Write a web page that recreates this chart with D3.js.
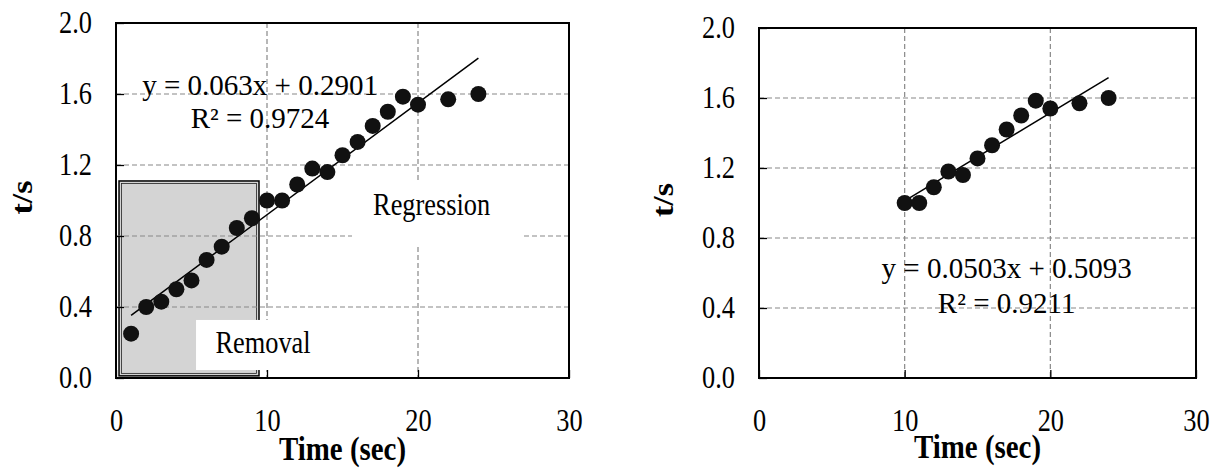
<!DOCTYPE html>
<html>
<head>
<meta charset="utf-8">
<script src="https://cdn.jsdelivr.net/npm/d3@7/dist/d3.min.js"></script>
<style>
  html, body { margin: 0; padding: 0; background: #fff; }
  svg { display: block; }
  text { font-family: "Liberation Serif", "Times New Roman", serif; fill: #000; }
</style>
</head>
<body>
<svg id="chart" width="1215" height="468"></svg>
<script>
// ---------- data ----------
const timeSec  = [1, 2, 3, 4, 5, 6, 7, 8, 9, 10, 11, 12, 13, 14, 15, 16, 17, 18, 19, 20, 22, 24];
const tsValues = [0.25, 0.40, 0.43, 0.50, 0.55, 0.665, 0.74, 0.845, 0.90, 1.00, 1.00, 1.09, 1.18, 1.16, 1.255, 1.33, 1.42, 1.50, 1.585, 1.54, 1.57, 1.60];
const xTicks = [0, 10, 20, 30];
const yTicks = [0.0, 0.4, 0.8, 1.2, 1.6, 2.0];
const fitAll  = { slope: 0.063,  intercept: 0.2901, r2: "0.9724", from: 1,  to: 24 };
const fitLate = { slope: 0.0503, intercept: 0.5093, r2: "0.9211", from: 10, to: 24 };
const lateStart = 10;

const svg = d3.select("#chart");
const SX = 0.85;   // the source renders its serif text slightly condensed
const FONT_TICK = 31, FONT_TITLE = 34, FONT_NOTE = 31;
const FONT_EQ = 29, SX_EQ = 1.0;

function eqText(f) {
  return "y = " + f.slope + "x + " + f.intercept;
}

function cText(parent, px, py, str, size, bold, sx) {
  return parent.append("text")
    .attr("transform", `translate(${px},${py}) scale(${sx == null ? SX : sx},1)`)
    .attr("text-anchor", "middle").attr("font-size", size)
    .attr("font-weight", bold ? "bold" : "normal").text(str);
}

function drawPanel(cfg) {
  const g = svg.append("g");
  const x = d3.scaleLinear().domain([0, 30]).range([cfg.left, cfg.right]);
  const y = d3.scaleLinear().domain([0, 2]).range([cfg.bottom, cfg.top]);
  const pts = timeSec.map((t, i) => ({ t, v: tsValues[i] })).filter(d => d.t >= cfg.minT);

  // shaded "removal" region (behind grid)
  if (cfg.grayBox) {
    const b = cfg.grayBox;
    g.append("rect")
      .attr("x", x(b.x0)).attr("y", y(b.y1))
      .attr("width", x(b.x1) - x(b.x0)).attr("height", y(b.y0) - y(b.y1))
      .attr("fill", "#d4d4d4").attr("stroke", "#000").attr("stroke-width", 1.5);
    g.append("rect")
      .attr("x", x(b.x0) + 2.5).attr("y", y(b.y1) + 2.5)
      .attr("width", x(b.x1) - x(b.x0) - 5).attr("height", y(b.y0) - y(b.y1) - 5)
      .attr("fill", "none").attr("stroke", "#222").attr("stroke-width", 0.8);
  }

  // gridlines
  g.append("g").selectAll("line").data(xTicks.filter(d => d > 0 && d < 30)).join("line")
    .attr("x1", d => x(d)).attr("x2", d => x(d)).attr("y1", cfg.top).attr("y2", cfg.bottom)
    .attr("stroke", "#888").attr("stroke-width", 1.2).attr("stroke-dasharray", "5,3");
  g.append("g").selectAll("line").data(yTicks.filter(d => d > 0 && d < 2)).join("line")
    .attr("x1", cfg.left).attr("x2", cfg.right).attr("y1", d => y(d)).attr("y2", d => y(d))
    .attr("stroke", "#888").attr("stroke-width", 1.2).attr("stroke-dasharray", "5,3");

  // white label boxes
  (cfg.labels || []).forEach(l => {
    g.append("rect")
      .attr("x", x(l.bx0)).attr("y", y(l.by1))
      .attr("width", x(l.bx1) - x(l.bx0)).attr("height", y(l.by0) - y(l.by1))
      .attr("fill", "#fff");
    cText(g, x(l.tx), y(l.ty), l.text, FONT_NOTE, false);
  });

  // axes (inward ticks)
  const ax = g.append("g").attr("transform", `translate(0,${cfg.bottom})`)
    .call(d3.axisBottom(x).tickValues(xTicks).tickFormat(d3.format("d"))
      .tickSizeInner(-8).tickSizeOuter(0).tickPadding(31));
  const ay = g.append("g").attr("transform", `translate(${cfg.left},0)`)
    .call(d3.axisLeft(y).tickValues(yTicks).tickFormat(d3.format(".1f"))
      .tickSizeInner(-8).tickSizeOuter(0).tickPadding(24 / SX));
  [ax, ay].forEach(a => {
    a.select(".domain").remove();
    a.selectAll(".tick line").attr("stroke", "#000").attr("stroke-width", 1.3);
    a.selectAll(".tick text").attr("font-size", FONT_TICK)
      .attr("font-family", '"Liberation Serif", "Times New Roman", serif').attr("fill", "#000")
      .attr("transform", `scale(${SX},1)`);
  });

  // frame
  g.append("rect").attr("x", cfg.left).attr("y", cfg.top)
    .attr("width", cfg.right - cfg.left).attr("height", cfg.bottom - cfg.top)
    .attr("fill", "none").attr("stroke", "#000").attr("stroke-width", 2);

  // trendline
  const f = cfg.fit;
  g.append("line")
    .attr("x1", x(f.from)).attr("y1", y(f.slope * f.from + f.intercept))
    .attr("x2", x(f.to)).attr("y2", y(f.slope * f.to + f.intercept))
    .attr("stroke", "#000").attr("stroke-width", 1.5);

  // points
  g.append("g").selectAll("circle").data(pts).join("circle")
    .attr("cx", d => x(d.t)).attr("cy", d => y(d.v)).attr("r", 8)
    .attr("fill", "#111");

  // equation
  cText(g, x(cfg.eqX), y(cfg.eqY1), eqText(f), FONT_EQ, false, SX_EQ);
  cText(g, x(cfg.eqX), y(cfg.eqY2), "R² = " + f.r2, FONT_EQ, false, SX_EQ);

  // axis titles
  cText(g, (cfg.left + cfg.right) / 2, cfg.xTitleY, "Time (sec)", FONT_TITLE, true);
  g.append("text")
    .attr("transform", `translate(${cfg.yTitleX},${(cfg.top + cfg.bottom) / 2 - 3}) rotate(-90) scale(1,${SX})`)
    .attr("text-anchor", "middle").attr("dominant-baseline", "central")
    .attr("font-size", FONT_TITLE).attr("font-weight", "bold").text("t/s");
}

drawPanel({
  left: 116, right: 569, top: 23, bottom: 378, minT: 0, fit: fitAll,
  eqX: 9.54, eqY1: 1.594, eqY2: 1.408,
  xTitleY: 460, yTitleX: 22,
  grayBox: { x0: 0.2, x1: 9.47, y0: 0.012, y1: 1.11 },
  labels: [
    { text: "Removal",    bx0: 5.3,  bx1: 14.2,  by0: 0.045, by1: 0.327, tx: 9.74, ty: 0.141 },
    { text: "Regression", bx0: 15.63, bx1: 26.95, by0: 0.738, by1: 1.104, tx: 20.9, ty: 0.918 }
  ]
});

drawPanel({
  left: 759, right: 1196, top: 28, bottom: 378, minT: lateStart, fit: fitLate,
  eqX: 17.0, eqY1: 0.571, eqY2: 0.374,
  xTitleY: 458, yTitleX: 663,
  labels: []
});
</script>
</body>
</html>
